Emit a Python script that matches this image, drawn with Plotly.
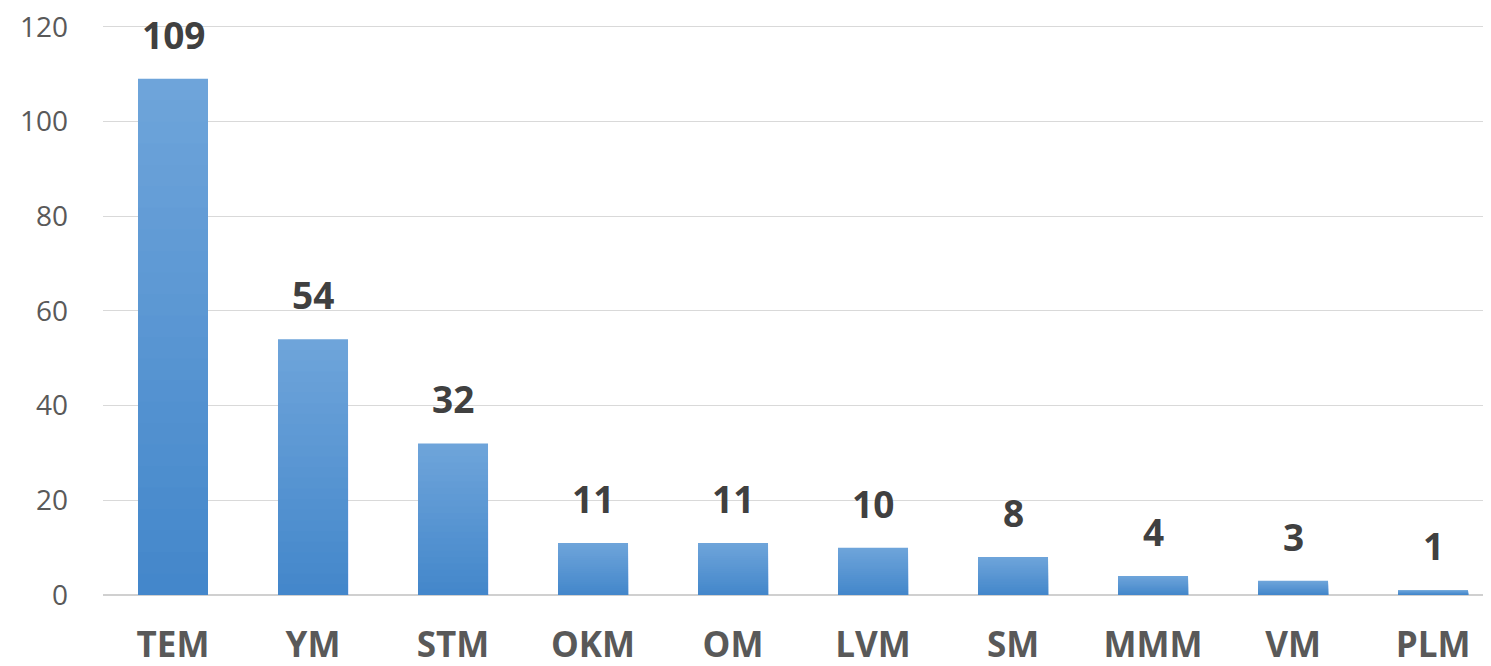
import plotly.graph_objects as go

categories = ["TEM", "YM", "STM", "OKM", "OM", "LVM", "SM", "MMM", "VM", "PLM"]
values = [109, 54, 32, 11, 11, 10, 8, 4, 3, 1]
y_ticks = [0, 20, 40, 60, 80, 100, 120]

# gradient colors from top (light) to bottom (dark)
top_rgb = (110, 164, 218)
bot_rgb = (66, 134, 202)
n_layers = 24

fig = go.Figure()
for k in range(n_layers):
    frac = k / n_layers
    r = round(top_rgb[0] + (bot_rgb[0] - top_rgb[0]) * frac)
    g = round(top_rgb[1] + (bot_rgb[1] - top_rgb[1]) * frac)
    b = round(top_rgb[2] + (bot_rgb[2] - top_rgb[2]) * frac)
    fig.add_trace(go.Bar(
        x=categories,
        y=[v * (1 - frac) for v in values],
        marker=dict(color=f"rgb({r},{g},{b})", line=dict(width=0)),
        width=0.5,
        hoverinfo="skip" if k else None,
        showlegend=False,
    ))

for c, v in zip(categories, values):
    fig.add_annotation(
        x=c, y=v, text=f"<b>{v}</b>", showarrow=False,
        yanchor="bottom", yshift=17,
        font=dict(family="Open Sans", size=37, color="#404040"),
    )

fig.update_layout(
    width=1483, height=658,
    margin=dict(l=95, r=0, t=14, b=71),
    paper_bgcolor="white", plot_bgcolor="white",
    barmode="overlay",
    showlegend=False,
    xaxis=dict(
        range=[-0.5, 9.414],
        automargin=False,
        showgrid=False, showline=False, zeroline=False,
        ticks="",
        tickfont=dict(family="Open Sans", size=35, color="#595959", weight="bold"),
        ticklabelstandoff=26,
    ),
    yaxis=dict(
        range=[0, 121],
        automargin=False,
        tickvals=y_ticks,
        ticklabeloverflow="allow",
        showgrid=True, gridcolor="#d9d9d9", gridwidth=1,
        zeroline=True, zerolinecolor="#d0d0d0", zerolinewidth=2,
        showline=False, ticks="",
        tickfont=dict(family="Open Sans", size=28, color="#595959"),
        ticklabelstandoff=34,
    ),
)

fig.write_html("out.html")
